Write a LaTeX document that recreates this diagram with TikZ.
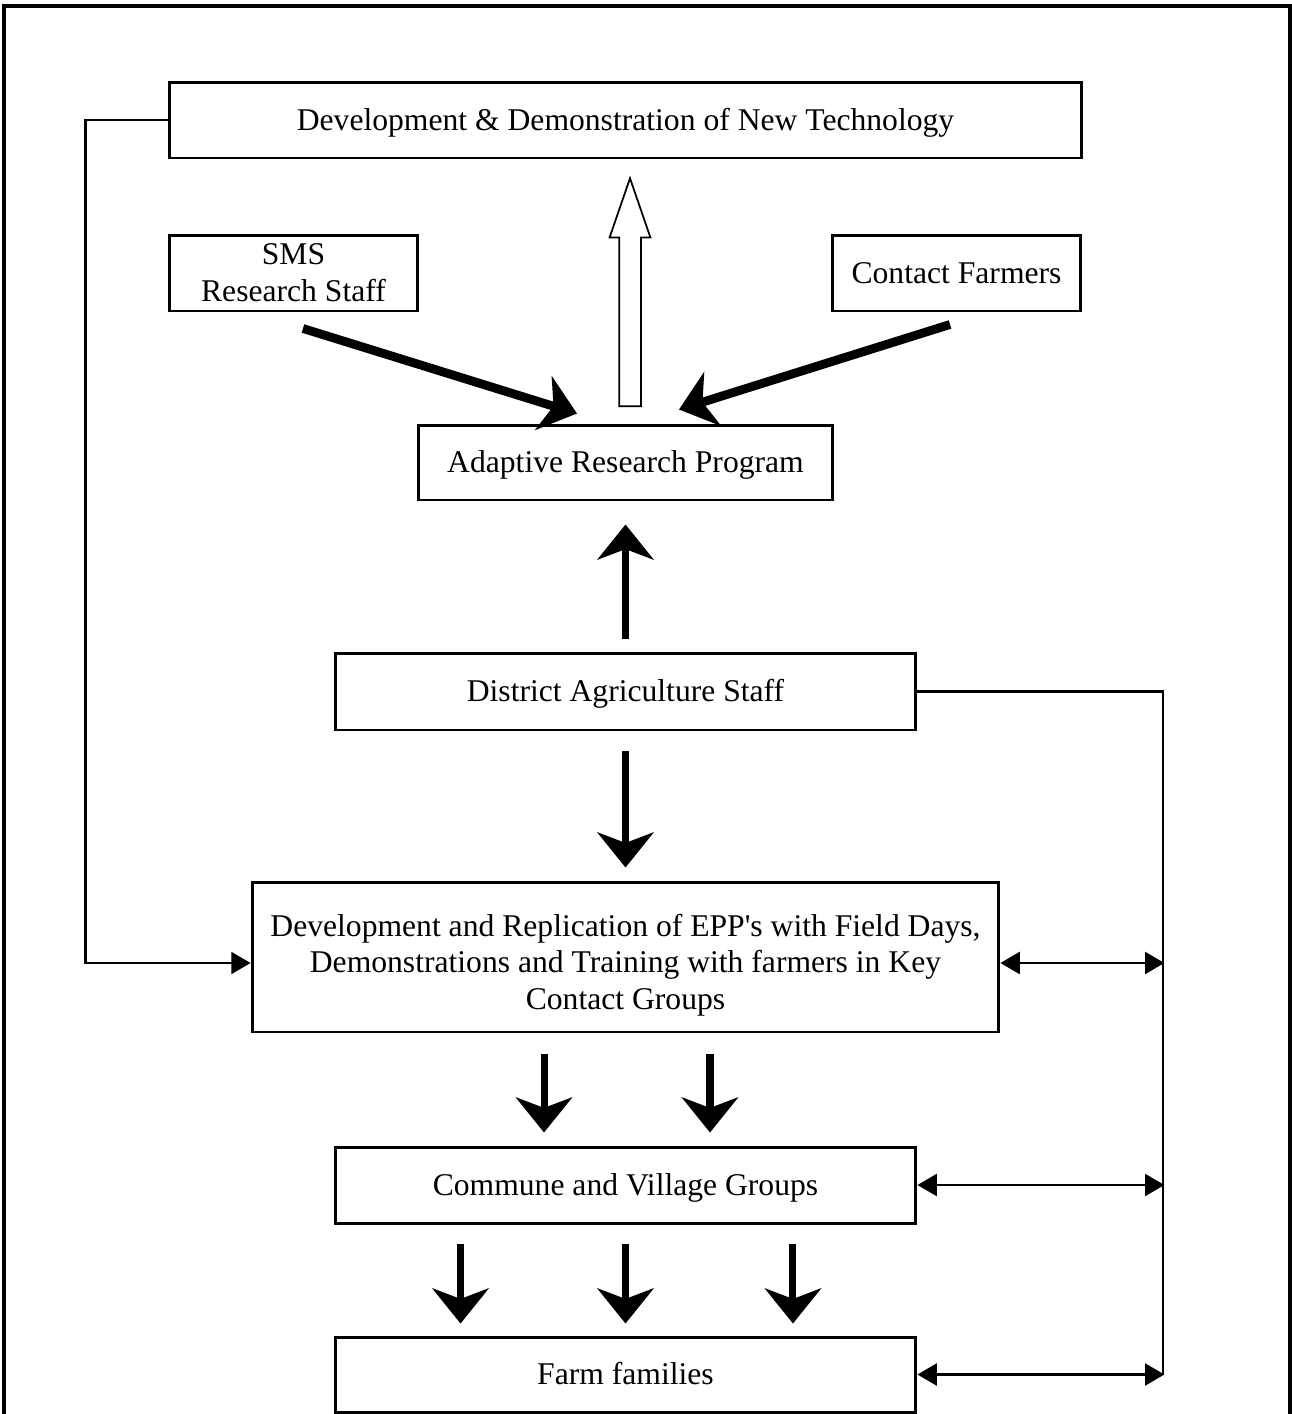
\documentclass[tikz,border=0pt]{standalone}
\usepackage{fontspec}
\setmainfont{Liberation Serif}
\usepackage{tikz}
\usetikzlibrary{arrows.meta,shapes.arrows}

\begin{document}
\begin{tikzpicture}[x=0.02cm,y=-0.02cm]
			\tikzstyle{box}=[draw, line width=1.7pt, inner sep=0pt, align=center, font=\fontsize{18}{21}\selectfont]
			\tikzstyle{oneline}=[box, text height=15.5pt, text depth=4pt]
			\tikzstyle{link} = [line width=1.3pt]
			\tikzstyle{fat} = [line width=4pt, -{Stealth[length=20pt,width=32pt,inset=6pt]}]
			\tikzset{both/.style = {link, {Triangle[length=11pt,width=12.5pt]}-{Triangle[length=11pt,width=12.5pt]}}}
			\tikzset{into/.style = {link, -{Triangle[length=11pt,width=12.5pt]}}}
			\useasboundingbox (0,0) rectangle (1292,1414);

			% frame
			\draw[line width=2.3pt] (4,1414) -- (4,6) -- (1290,6) -- (1290,1414);

			% boxes
			\node[oneline, minimum width=18.26cm, minimum height=1.52cm](tech) at (625.5,120) {Development \& Demonstration of New Technology};
			\node[box, minimum width=4.98cm, minimum height=1.52cm](sms) at (293.5,273) {SMS\\Research Staff};
			\node[oneline, minimum width=4.98cm, minimum height=1.52cm](farmers) at (956.5,273) {Contact Farmers};
			\node[oneline, minimum width=8.3cm, minimum height=1.5cm](arp) at (625.5,462.5) {Adaptive Research Program};
			\node[oneline, minimum width=11.62cm, minimum height=1.54cm](das) at (625.5,691.5) {District Agriculture Staff};
			\node[box, minimum width=14.94cm, minimum height=3cm](epp) at (625.5,957) {\rule{0pt}{22pt}Development and Replication of EPP\textquotesingle s with Field Days,\\Demonstrations and Training with farmers in Key\\Contact Groups};
			\node[oneline, minimum width=11.62cm, minimum height=1.52cm](commune) at (625.5,1185) {Commune and Village Groups};
			\node[oneline, minimum width=11.62cm, minimum height=1.5cm](farm) at (625.5,1374.5) {Farm families};

			% hollow arrow up to new technology
			\node[draw, line width=1pt, single arrow, shape border rotate=90, minimum height=4.56cm, inner sep=0.2cm, single arrow head extend=0.19cm, single arrow tip angle=38](up) at (630,308) {};

			% inputs to the research program
			\draw[fat, line width=5pt]([xshift=0.19cm,yshift=-0.32cm]sms.south) to ([xshift=-0.97cm,yshift=0.2cm]arp.north);
			\draw[fat, line width=5pt]([xshift=-0.13cm,yshift=-0.24cm]farmers.south) to ([xshift=1.07cm,yshift=0.28cm]arp.north);
			\draw[fat, shorten <=0.26cm, shorten >=0.46cm](das.north) to (arp.south);
			\draw[fat, shorten <=0.4cm, shorten >=0.26cm](das.south) to (epp.north);

			% spread down to the farmers
			\draw[fat, shorten <=0.42cm, shorten >=0.26cm]([xshift=-1.63cm]epp.south) to ([xshift=-1.63cm]commune.north);
			\draw[fat, shorten <=0.42cm, shorten >=0.26cm]([xshift=1.69cm]epp.south) to ([xshift=1.69cm]commune.north);
			\draw[fat, shorten <=0.4cm, shorten >=0.24cm]([xshift=-3.3cm]commune.south) to ([xshift=-3.3cm]farm.north);
			\draw[fat, shorten <=0.4cm, shorten >=0.24cm](commune.south) to (farm.north);
			\draw[fat, shorten <=0.4cm, shorten >=0.24cm]([xshift=3.35cm]commune.south) to ([xshift=3.35cm]farm.north);

			% side links
			\draw[into](tech.west) -- ++(-1.64cm,0) |- ([yshift=-0.12cm]epp.west);
			\coordinate (rail) at (1163,691.5);
			\draw[link](das.east) -- (rail) -- (rail |- farm.east);
			\draw[both]([yshift=-0.12cm]epp.east) -- ++(3.28cm,0);
			\draw[both](commune.east) -- ++(4.94cm,0);
			\draw[both](farm.east) -- ++(4.94cm,0);
\end{tikzpicture}
\end{document}
